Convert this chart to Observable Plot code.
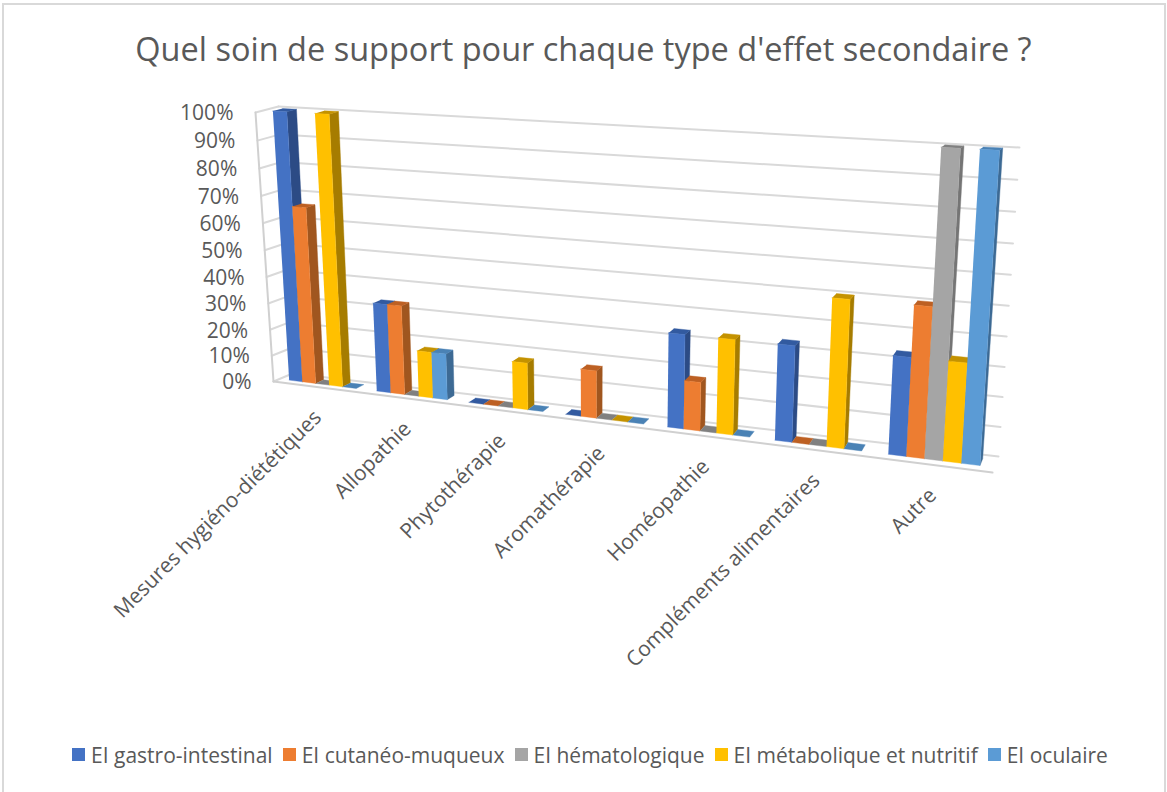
<!DOCTYPE html>
<html lang="fr">
<head>
<meta charset="utf-8">
<script src="https://cdn.jsdelivr.net/npm/d3@7"></script>
<script src="https://cdn.jsdelivr.net/npm/@observablehq/plot@0.6"></script>
<style>
  html, body { margin: 0; padding: 0; background: #fff; overflow: hidden; }
  #frame { position: relative; width: 1167px; height: 792px; box-sizing: border-box; overflow: hidden; font-family: "Open Sans", sans-serif; color: #595959; }
  #frame::before { content: ""; position: absolute; left: 2px; top: 3px; right: 1px; bottom: -4px; border: 2px solid #d9d9d9; pointer-events: none; }
  #title { height: 90px; line-height: 97px; text-align: center; font-size: 32.5px; white-space: nowrap; }
  #chart svg { display: block; }
  #legend { height: 72px; display: flex; align-items: center; padding-left: 72px; font-size: 21px; white-space: nowrap; box-sizing: border-box; padding-bottom: 3px; }
  .item { display: flex; align-items: center; margin-right: 10px; }
  .sw { width: 13px; height: 13px; margin-right: 6px; }
</style>
</head>
<body>
<div id="frame">
  <div id="title"></div>
  <div id="chart"></div>
  <div id="legend"></div>
</div>
<script>
const titleText = "Quel soin de support pour chaque type d'effet secondaire ?";
const categories = ["Mesures hygiéno-diététiques", "Allopathie", "Phytothérapie", "Aromathérapie", "Homéopathie", "Compléments alimentaires", "Autre"];
const seriesNames = ["EI gastro-intestinal", "EI cutanéo-muqueux", "EI hématologique", "EI métabolique et nutritif", "EI oculaire"];
const gastro = [1, 0.33, 0, 0, 0.33, 0.33, 0.33];
const cutane = [0.66, 0.33, 0, 0.17, 0.17, 0, 0.5];
const hemato = [0, 0, 0, 0, 0, 0, 1];
const metabo = [1, 0.17, 0.17, 0, 0.33, 0.5, 0.33];
const oculaire = [0, 0.17, 0, 0, 0, 0, 1];
const seriesValues = [gastro, cutane, hemato, metabo, oculaire];
const ticks = [0, 0.1, 0.2, 0.3, 0.4, 0.5, 0.6, 0.7, 0.8, 0.9, 1];
const tickLabels = ["0%", "10%", "20%", "30%", "40%", "50%", "60%", "70%", "80%", "90%", "100%"];
const frontColors = ["#4472c4", "#ed7d31", "#a5a5a5", "#ffc000", "#5b9bd5"];
const sideColors = ["#2c4b85", "#a0561f", "#757575", "#a67c00", "#3d6a94"];
const topColors = ["#325aa0", "#bd6023", "#808080", "#c49200", "#4a82b5"];

// Perspective box of the 3D chart: u along categories, v along values, w into depth.
const box = {
  fb: [[273, 381], [992, 472]], ft: [[255, 112], [1012, 152.4]],
  bb: [[292, 373], [998, 456]], bt: [[278, 106], [1019, 147]]
};
const lerp = (a, b, t) => a + (b - a) * t;
const lerp2 = (p, q, t) => [lerp(p[0], q[0], t), lerp(p[1], q[1], t)];
function project(u, v, w) {
  const t = u / (u + 1.2 * (1 - u));
  const h = v / (v + 1.05 * (1 - v));
  const front = lerp2(lerp2(box.fb[0], box.fb[1], t), lerp2(box.ft[0], box.ft[1], t), h);
  const back = lerp2(lerp2(box.bb[0], box.bb[1], t), lerp2(box.bt[0], box.bt[1], t), h);
  const p = lerp2(front, back, w);
  return {x: p[0], y: p[1]};
}

const slot = 1 / categories.length, groupStart = 0.016, barU = 0.022, w0 = 0.32, w1 = 0.75;
const faces = [];
function face(id, color, corners) {
  corners.forEach(([u, v, w]) => faces.push({id, color, ...project(u, v, w)}));
}
categories.forEach((cat, c) => {
  seriesValues.forEach((vals, s) => {
    const val = vals[c];
    const u0 = c * slot + groupStart + s * barU, u1 = u0 + barU;
    const key = c + "-" + s;
    if (val > 0) face(key + "side", sideColors[s], [[u1, 0, w0], [u1, 0, w1], [u1, val, w1], [u1, val, w0]]);
    face(key + "top", topColors[s], [[u0, val, w0], [u1, val, w0], [u1, val, w1], [u0, val, w1]]);
    if (val > 0) face(key + "front", frontColors[s], [[u0, 0, w0], [u1, 0, w0], [u1, val, w0], [u0, val, w0]]);
  });
});

const grid = [];
ticks.forEach(v => {
  [[0, 1], [1, 1]].forEach(([u, w]) => grid.push({id: "b" + v, ...project(u, v, w)}));
  [[0, 0], [0, 1]].forEach(([u, w]) => grid.push({id: "l" + v, ...project(u, v, w)}));
});
const frontEdges = [];
[[0, 0], [1, 0]].forEach(([u, v]) => frontEdges.push({id: "floor", ...project(u, v, 0)}));
[[0, 0], [0, 1]].forEach(([u, v]) => frontEdges.push({id: "wall", ...project(u, v, 0)}));

const yLabels = ticks.map((v, i) => ({label: tickLabels[i], ...project(0, v, 0)}));
const xLabels = categories.map((label, c) => {
  const p = project((c + 0.5) * slot, 0, 0);
  return {label, x: p.x + 1, y: p.y + 27};
});

document.getElementById("title").textContent = titleText;
const legend = document.getElementById("legend");
seriesNames.forEach((name, s) => {
  const it = document.createElement("div"); it.className = "item";
  const sw = document.createElement("div"); sw.className = "sw"; sw.style.background = frontColors[s];
  const tx = document.createElement("span"); tx.textContent = name;
  it.append(sw, tx); legend.append(it);
});

const chart = Plot.plot({
  width: 1167, height: 630,
  margin: 0,
  x: {domain: [0, 1167], range: [0, 1167], axis: null},
  y: {domain: [90, 720], range: [0, 630], axis: null},
  color: {type: "identity"},
  style: {background: "transparent", overflow: "visible"},
  marks: [
    Plot.line(grid, {x: "x", y: "y", z: "id", stroke: "#d9d9d9", strokeWidth: 2}),
    Plot.line(frontEdges, {x: "x", y: "y", z: "id", stroke: "#d0d0d0", strokeWidth: 2}),
    Plot.line(faces, {x: "x", y: "y", z: "id", fill: "color", stroke: "color", strokeWidth: 0.4}),
    Plot.text(yLabels, {x: "x", y: "y", text: "label", textAnchor: "end", dx: -22, dy: 1, fontSize: 21, fill: "#595959", fontFamily: "Open Sans"}),
    Plot.text(xLabels, {x: "x", y: "y", text: "label", textAnchor: "end", rotate: -45, fontSize: 21, fill: "#595959", fontFamily: "Open Sans"})
  ]
});
document.getElementById("chart").append(chart);
</script>
</body>
</html>
